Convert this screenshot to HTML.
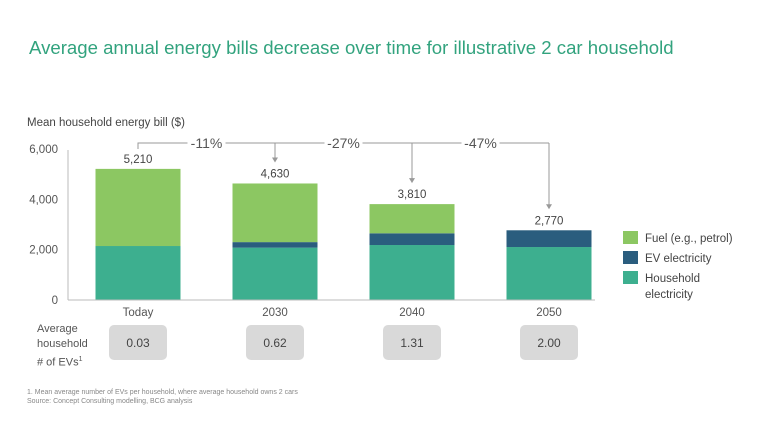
<!DOCTYPE html>
<html><head><meta charset="utf-8">
<style>
body{margin:0;width:768px;height:432px;background:#fff;font-family:"Liberation Sans",sans-serif;overflow:hidden;position:relative}
.t{position:absolute;white-space:nowrap}
</style></head><body>
<div class="t" style="left:29px;top:37px;font-size:18.6px;color:#32a37e">Average annual energy bills decrease over time for illustrative 2 car household</div>
<div class="t" style="left:27px;top:117px;font-size:11.5px;color:#444">Mean household energy bill ($)</div>
<svg id="chart" width="768" height="432" style="position:absolute;left:0;top:0"></svg>
<div class="t" style="left:37px;top:322px;font-size:11px;line-height:15px;color:#555">Average<br>household<br># of EVs<sup style="font-size:7px">1</sup></div>
<div class="t" style="left:27px;top:388px;font-size:7px;line-height:9px;color:#888">1. Mean average number of EVs per household, where average household owns 2 cars<br>Source: Concept Consulting modelling, BCG analysis</div>
<script>
const categories=["Today","2030","2040","2050"];
const household=[2145,2080,2185,2105];
const evElec=[0,220,465,665];
const fuel=[3065,2330,1160,0];
const totals=["5,210","4,630","3,810","2,770"];
const evCounts=["0.03","0.62","1.31","2.00"];
const changes=["-11%","-27%","-47%"];
const yTicks=[0,2000,4000,6000];
const svg=document.getElementById('chart');
const NS='http://www.w3.org/2000/svg';
const y=v=>300-v*151/6000;
const xc=i=>138+i*137;
const bw=85;
function mk(tag,attrs){const e=document.createElementNS(NS,tag);for(const k in attrs)e.setAttribute(k,attrs[k]);svg.appendChild(e);return e;}
yTicks.forEach(t=>{const e=mk('text',{x:58,y:y(t)+4,'text-anchor':'end','font-size':11.5,fill:'#555'});e.textContent=t.toLocaleString('en-US');

});
const ax=mk('line',{x1:68,y1:150,x2:68,y2:300,stroke:'#bbb','stroke-width':1});


categories.forEach((c,i)=>{
 let base=0;
 [[household[i],'#3daf8f','household'],[evElec[i],'#2a5d7e','ev'],[fuel[i],'#8cc762','fuel']].forEach(([v,col,n])=>{
  if(v<=0)return;
  const r=mk('rect',{x:xc(i)-bw/2,y:y(base+v),width:bw,height:y(base)-y(base+v),fill:col});
  
  
  base+=v;});
 const tl=mk('text',{x:xc(i),y:y(base)-6,'text-anchor':'middle','font-size':11.5,fill:'#444'});tl.textContent=totals[i];
 
 
 const cl=mk('text',{x:xc(i),y:316,'text-anchor':'middle','font-size':11.5,fill:'#555'});cl.textContent=c;
 
 
 const bx=mk('rect',{x:xc(i)-29,y:325,width:58,height:35,rx:5,fill:'#d9d9d9'});
 
 
 const bt=mk('text',{x:xc(i),y:347,'text-anchor':'middle','font-size':12,fill:'#444'});bt.textContent=evCounts[i];
 
 
});
const bl=mk('line',{x1:68,y1:300,x2:595,y2:300,stroke:'#bbb','stroke-width':1});


const by=143;
const bp=mk('path',{d:`M${xc(0)} 149 V${by} H${xc(3)}`,stroke:'#999',fill:'none','stroke-width':1});


[1,2,3].forEach(i=>{
 const tot=household[i]+evElec[i]+fuel[i];
 const end=y(tot)-22;
 const a=mk('path',{d:`M${xc(i)} ${by} V${end}`,stroke:'#999','stroke-width':1});
 
 
 const h=mk('path',{d:`M${xc(i)-3} ${end-4} L${xc(i)+3} ${end-4} L${xc(i)} ${end+1}Z`,fill:'#999'});
 
 
 const lx=(xc(i-1)+xc(i))/2;
 const bg=mk('rect',{x:lx-19,y:by-8,width:38,height:16,fill:'#fff'});
 
 
 const t=mk('text',{x:lx,y:by+5,'text-anchor':'middle','font-size':14,fill:'#555'});t.textContent=changes[i-1];
 
 
});
[['#8cc762','Fuel (e.g., petrol)',231],['#2a5d7e','EV electricity',251],['#3daf8f','Household',271]].forEach(([c,l,yy])=>{
 const s=mk('rect',{x:623,y:yy,width:15,height:13,fill:c});
 
 
 const t=mk('text',{x:645,y:yy+11,'font-size':11.5,fill:'#444'});t.textContent=l;
 
 
});
const t2=mk('text',{x:645,y:298,'font-size':11.5,fill:'#444'});t2.textContent='electricity';


</script>
</body></html>
